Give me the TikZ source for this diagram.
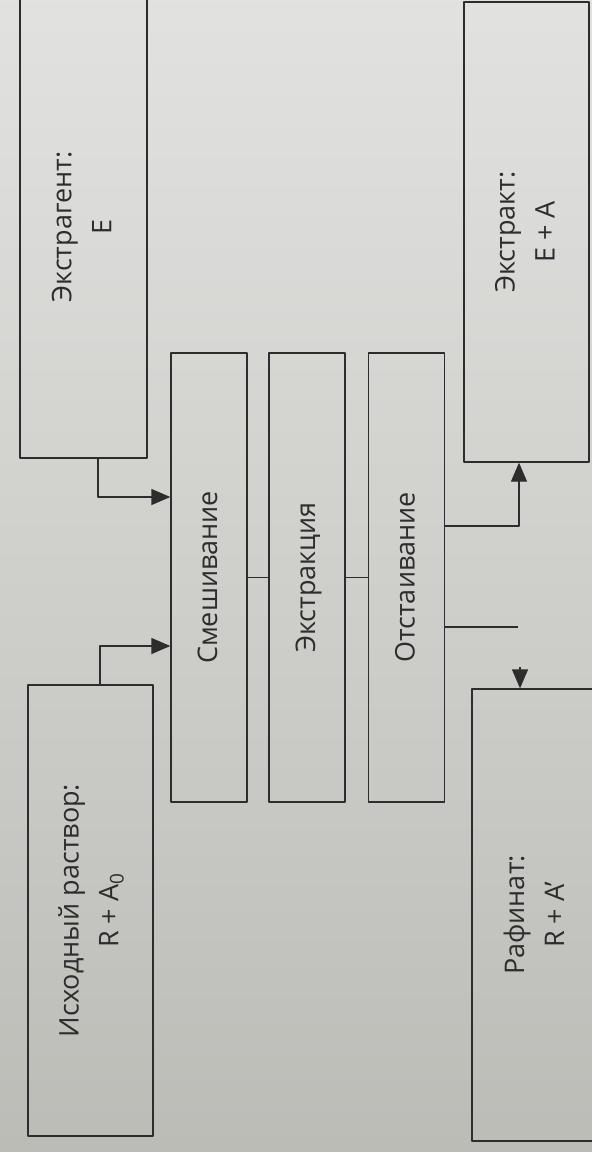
\documentclass[tikz,border=0pt]{standalone}
\usepackage{fontspec}
\setmainfont{Open Sans}
\usetikzlibrary{arrows.meta}
\definecolor{paper}{RGB}{206,207,203}
\definecolor{paperdark}{RGB}{188,188,183}
\definecolor{ink}{RGB}{45,45,45}
\newcommand{\vtext}[1]{\rotatebox{90}{\begin{tabular}{c}#1\end{tabular}}}
\begin{document}
\begin{tikzpicture}[x=1pt,y=-1pt,line join=round,
	box/.style={draw=ink,line width=1.3pt,inner sep=0pt,text=ink,font=\fontsize{27}{40}\selectfont},
	arr/.style={draw=ink,line width=1.3pt,-{Triangle[length=19pt,width=16pt]}},
	lin/.style={draw=ink,line width=1.3pt}]
	\useasboundingbox (0,0) rectangle (592,1152);
	\clip (0,0) rectangle (592,1152);
	\shade[top color=paper!60!white,bottom color=paperdark] (0,0) rectangle (592,1152);
	% feed boxes
	\node[box,minimum width=127pt,minimum height=462pt] (extragent) at (83.5,227) {\vtext{Экстрагент:\\E}};
	\node[box,minimum width=125pt,minimum height=451pt] (source) at (90.5,910.5) {\vtext{Исходный раствор:\\R + A\textsubscript{0}}};
	% process stages
	\foreach \n/\x/\t in {mix/209/Смешивание,extr/307/Экстракция,settle/406.5/Отстаивание}
		\node[box,minimum width=76pt,minimum height=449pt] (\n) at (\x,577.5) {\vtext{\t}};
	% products
	\node[box,minimum width=125pt,minimum height=460pt] (extract) at (526.5,232) {\vtext{Экстракт:\\E + A}};
	\node[box,minimum width=128pt,minimum height=452pt] (raffinate) at (536,915) {\vtext{Рафинат:\\R + A'}};
	% connectors
	\draw[arr] ([xshift=14.5pt]extragent.south) |- ([yshift=80.5pt]mix.west);
	\draw[arr] ([xshift=9.5pt]source.north) |- ([yshift=-68.5pt]mix.west);
	\draw[lin] (mix) -- (extr) (extr) -- (settle);
	\draw[arr] ([yshift=51.5pt]settle.east) -| ([xshift=-7.5pt]extract.south);
	\coordinate (stub) at (518,627);
	\draw[lin] ([yshift=-49.5pt]settle.east) -- (stub);
	\coordinate (rin) at (520,667);
	\draw[arr] (rin) -- (rin |- raffinate.north);
\end{tikzpicture}
\end{document}
